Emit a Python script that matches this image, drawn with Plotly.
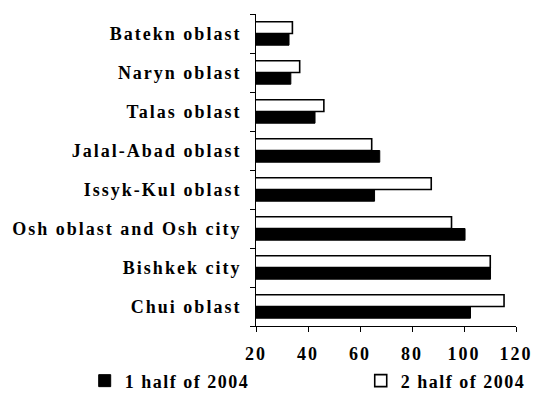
import plotly.graph_objects as go

# Regions listed bottom-to-top so the first series sits below the second in each pair
regions = [
    "Chui oblast",
    "Bishkek city",
    "Osh oblast and Osh city",
    "Issyk-Kul oblast",
    "Jalal-Abad oblast",
    "Talas oblast",
    "Naryn oblast",
    "Batekn oblast",
]
first_half_2004 = [102.5, 110.2, 100.4, 65.6, 67.6, 42.7, 33.4, 32.7]
second_half_2004 = [115.4, 110.1, 95.2, 87.4, 64.5, 46.1, 36.8, 34.0]
x_ticks = [20, 40, 60, 80, 100, 120]


def spaced(text, gap=2):
    return f'<span style="letter-spacing:{gap}px">{text}</span>'


FONT = dict(family="Liberation Serif, Times New Roman, serif", size=18,
            color="black", weight="bold")

fig = go.Figure()
fig.add_trace(go.Bar(
    y=regions, x=first_half_2004, orientation="h",
    name=spaced("1 half of 2004", 1.5), legend="legend",
    marker=dict(color="black", line=dict(color="black", width=1)),
))
fig.add_trace(go.Bar(
    y=regions, x=second_half_2004, orientation="h",
    name=spaced("2 half of 2004", 1.5), legend="legend2",
    marker=dict(color="white", line=dict(color="black", width=1.6)),
))

legend_common = dict(
    orientation="h", xref="container", yref="container",
    y=0.038, xanchor="left", yanchor="middle",
    font=FONT, itemwidth=30, bgcolor="rgba(0,0,0,0)",
)

fig.update_layout(
    width=536, height=396,
    margin=dict(l=256, r=20, t=14, b=70, autoexpand=False),
    paper_bgcolor="white", plot_bgcolor="white",
    barmode="group", bargap=0.4, bargroupgap=0,
    font=FONT,
    showlegend=True,
    legend=dict(x=0.158, **legend_common),
    legend2=dict(x=0.673, **legend_common),
)

fig.update_xaxes(
    range=[20, 120], tickvals=x_ticks,
    ticktext=[spaced(str(v)) for v in x_ticks],
    showline=True, linecolor="black", linewidth=1,
    ticks="outside", ticklen=5, tickcolor="black", tickwidth=1,
    showgrid=False, zeroline=False, tickfont=FONT, ticklabelstandoff=6,
)
fig.update_yaxes(
    type="category", categoryorder="array", categoryarray=regions,
    tickvals=regions, ticktext=[spaced(r) for r in regions],
    showline=True, linecolor="black", linewidth=1,
    ticks="outside", ticklen=5, tickcolor="black", tickwidth=1,
    tickson="boundaries", showgrid=False, zeroline=False,
    tickfont=FONT, ticklabelstandoff=10,
)

fig.write_html("out.html")
